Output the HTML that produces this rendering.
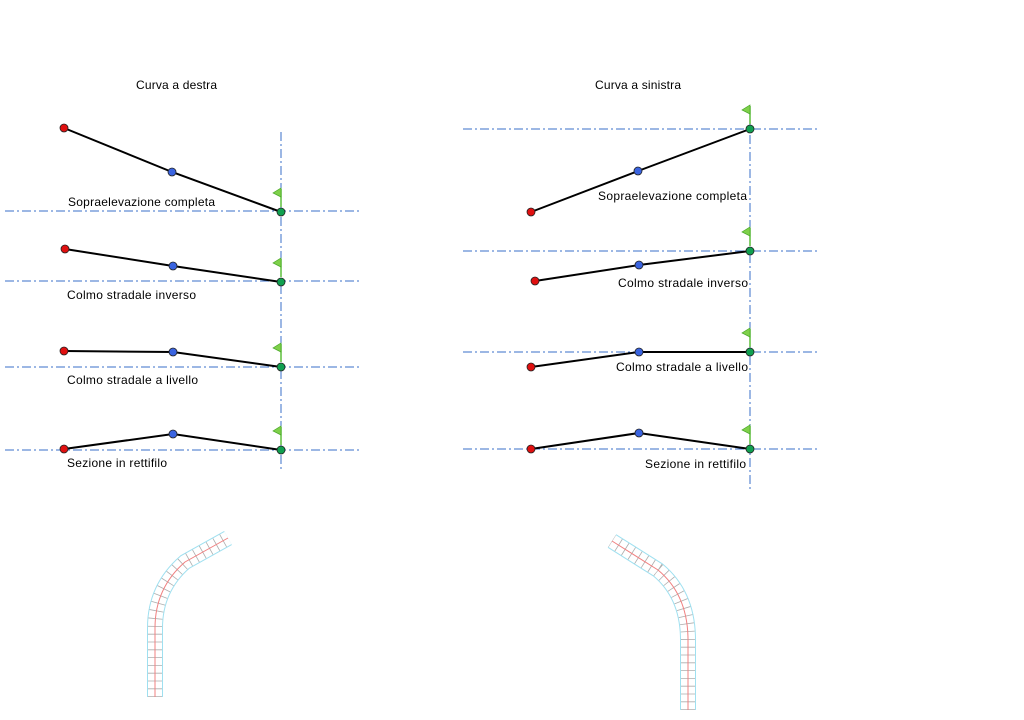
<!DOCTYPE html>
<html><head><meta charset="utf-8"><style>
html,body{margin:0;padding:0;background:#fff;width:1024px;height:720px;overflow:hidden}
svg{display:block}
text{font-family:"Liberation Sans",sans-serif;font-size:12px;fill:#000}
</style></head><body>
<svg width="1024" height="720" viewBox="0 0 1024 720" xmlns="http://www.w3.org/2000/svg">
<defs>
<g id="flag"><line x1="0" y1="0" x2="0" y2="18" stroke="#5cbf3a" stroke-width="1.5"/><polygon points="0,-1 0,8 -8,4" fill="#7fd04a" stroke="#4aa82a" stroke-width="0.7"/></g>
</defs>
<g stroke="#3a6fc8" stroke-width="1" stroke-dasharray="9,3,2,3" fill="none">
<line x1="281" y1="132" x2="281" y2="472"/>
<line x1="5" y1="211" x2="362" y2="211"/>
<line x1="5" y1="281" x2="362" y2="281"/>
<line x1="5" y1="367" x2="362" y2="367"/>
<line x1="5" y1="450" x2="362" y2="450"/>
<line x1="750" y1="118" x2="750" y2="492"/>
<line x1="463" y1="129" x2="820" y2="129"/>
<line x1="463" y1="251" x2="820" y2="251"/>
<line x1="463" y1="352" x2="820" y2="352"/>
<line x1="463" y1="449" x2="820" y2="449"/>
</g>
<text x="136" y="89" textLength="81">Curva a destra</text>
<text x="595" y="89" textLength="86">Curva a sinistra</text>
<g stroke="#000" stroke-width="2" fill="none">
<polyline points="64,128 172,172 281,212"/>
<polyline points="65,249 173,266 281,282"/>
<polyline points="64,351 173,352 281,367"/>
<polyline points="64,449 173,434 281,450"/>
<polyline points="531,212 638,171 750,129"/>
<polyline points="535,281 639,265 750,251"/>
<polyline points="531,367 639,352 750,352"/>
<polyline points="531,449 639,433 750,449"/>
</g>
<use href="#flag" x="281" y="189"/><use href="#flag" x="281" y="259"/><use href="#flag" x="281" y="344"/><use href="#flag" x="281" y="427"/>
<use href="#flag" x="750" y="106"/><use href="#flag" x="750" y="228"/><use href="#flag" x="750" y="329"/><use href="#flag" x="750" y="426"/>
<g stroke="#222" stroke-width="0.8">
<circle cx="64" cy="128" r="4" fill="#e01010"/><circle cx="172" cy="172" r="4" fill="#3a64e0"/><circle cx="281" cy="212" r="4" fill="#10a050"/>
<circle cx="65" cy="249" r="4" fill="#e01010"/><circle cx="173" cy="266" r="4" fill="#3a64e0"/><circle cx="281" cy="282" r="4" fill="#10a050"/>
<circle cx="64" cy="351" r="4" fill="#e01010"/><circle cx="173" cy="352" r="4" fill="#3a64e0"/><circle cx="281" cy="367" r="4" fill="#10a050"/>
<circle cx="64" cy="449" r="4" fill="#e01010"/><circle cx="173" cy="434" r="4" fill="#3a64e0"/><circle cx="281" cy="450" r="4" fill="#10a050"/>
<circle cx="531" cy="212" r="4" fill="#e01010"/><circle cx="638" cy="171" r="4" fill="#3a64e0"/><circle cx="750" cy="129" r="4" fill="#10a050"/>
<circle cx="535" cy="281" r="4" fill="#e01010"/><circle cx="639" cy="265" r="4" fill="#3a64e0"/><circle cx="750" cy="251" r="4" fill="#10a050"/>
<circle cx="531" cy="367" r="4" fill="#e01010"/><circle cx="639" cy="352" r="4" fill="#3a64e0"/><circle cx="750" cy="352" r="4" fill="#10a050"/>
<circle cx="531" cy="449" r="4" fill="#e01010"/><circle cx="639" cy="433" r="4" fill="#3a64e0"/><circle cx="750" cy="449" r="4" fill="#10a050"/>
</g>
<text x="68" y="206" textLength="147">Sopraelevazione completa</text>
<text x="67" y="299" textLength="129">Colmo stradale inverso</text>
<text x="67" y="384" textLength="131">Colmo stradale a livello</text>
<text x="67" y="467" textLength="100">Sezione in rettifilo</text>
<text x="598" y="200" textLength="149">Sopraelevazione completa</text>
<text x="618" y="287" textLength="130">Colmo stradale inverso</text>
<text x="616" y="371" textLength="132">Colmo stradale a livello</text>
<text x="645" y="468" textLength="101">Sezione in rettifilo</text>
<g fill="none">
<path d="M155,697 L155,628 Q155,588 185,562 L228,538" stroke="#9fe0f0" stroke-width="16"/>
<path d="M155,697 L155,628 Q155,588 185,562 L228,538" stroke="#fff" stroke-width="14"/>
<path d="M155,697 L155,628 Q155,588 185,562 L228,538" stroke="#999" stroke-width="14" stroke-dasharray="0.8,7" opacity="0.8"/>
<path d="M155,697 L155,628 Q155,588 185,562 L228,538" stroke="#f08080" stroke-width="1"/>
<path d="M688,710 L688,640 Q688,595 658,570 L612,541" stroke="#9fe0f0" stroke-width="16"/>
<path d="M688,710 L688,640 Q688,595 658,570 L612,541" stroke="#fff" stroke-width="14"/>
<path d="M688,710 L688,640 Q688,595 658,570 L612,541" stroke="#999" stroke-width="14" stroke-dasharray="0.8,7" opacity="0.8"/>
<path d="M688,710 L688,640 Q688,595 658,570 L612,541" stroke="#f08080" stroke-width="1"/>
</g>
</svg>
</body></html>
